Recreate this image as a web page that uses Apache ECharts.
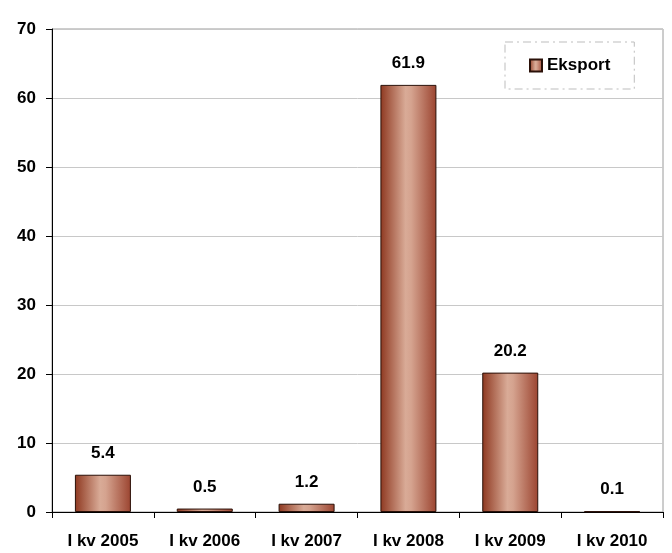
<!DOCTYPE html>
<html><head><meta charset="utf-8">
<script src="https://cdn.jsdelivr.net/npm/echarts@6/dist/echarts.min.js"></script>
<style>html,body{margin:0;padding:0;background:#fff}#c{width:672px;height:553px}</style>
</head><body><div id="c"></div>
<script>
var categories = ['I kv 2005','I kv 2006','I kv 2007','I kv 2008','I kv 2009','I kv 2010'];
var eksport = [5.4, 0.5, 1.2, 61.9, 20.2, 0.1];
var seriesName = 'Eksport';
var yTicks = {min: 0, max: 70, interval: 10};

var FONT = '"Liberation Sans", Arial, sans-serif';
var grad = new echarts.graphic.LinearGradient(0, 0, 1, 0, [
  {offset: 0, color: '#8e3820'},
  {offset: 0.45, color: '#d9ab97'},
  {offset: 0.55, color: '#d5a38f'},
  {offset: 1, color: '#9b4430'}
]);
var chart = echarts.init(document.getElementById('c'));
chart.setOption({
  animation: false,
  backgroundColor: '#fff',
  grid: {left: 52, right: 9, top: 29, bottom: 41, show: true, borderColor: '#9a9a9a', borderWidth: 1},
  legend: {
    left: 505, top: 42, width: 130,
    padding: [15, 24, 15, 24],
    borderColor: '#bdbdbd', borderWidth: 1, borderType: [8, 4, 2, 4],
    itemWidth: 12, itemHeight: 12, itemGap: 5,
    textStyle: {fontFamily: FONT, fontWeight: 'bold', fontSize: 17, color: '#000'},
    data: [{name: seriesName, icon: 'rect'}]
  },
  xAxis: {
    type: 'category', data: categories,
    axisLine: {lineStyle: {color: '#000', width: 1}},
    axisTick: {show: true, length: 6, alignWithLabel: false, lineStyle: {color: '#000'}},
    axisLabel: {fontFamily: FONT, fontWeight: 'bold', fontSize: 17, color: '#000', margin: 21}
  },
  yAxis: {
    type: 'value', min: yTicks.min, max: yTicks.max, interval: yTicks.interval,
    axisLine: {show: true, lineStyle: {color: '#000', width: 1}},
    axisTick: {show: true, length: 6, lineStyle: {color: '#000'}},
    splitLine: {lineStyle: {color: '#c8c8c8'}},
    axisLabel: {fontFamily: FONT, fontWeight: 'bold', fontSize: 17, color: '#000', margin: 16}
  },
  series: [{
    name: seriesName, type: 'bar', data: eksport, barWidth: 56,
    itemStyle: {color: grad, borderColor: '#2a1008', borderWidth: 1},
    label: {show: true, position: 'top', distance: 13, fontFamily: FONT, fontWeight: 'bold', fontSize: 17, color: '#000'}
  }]
});
</script></body></html>
